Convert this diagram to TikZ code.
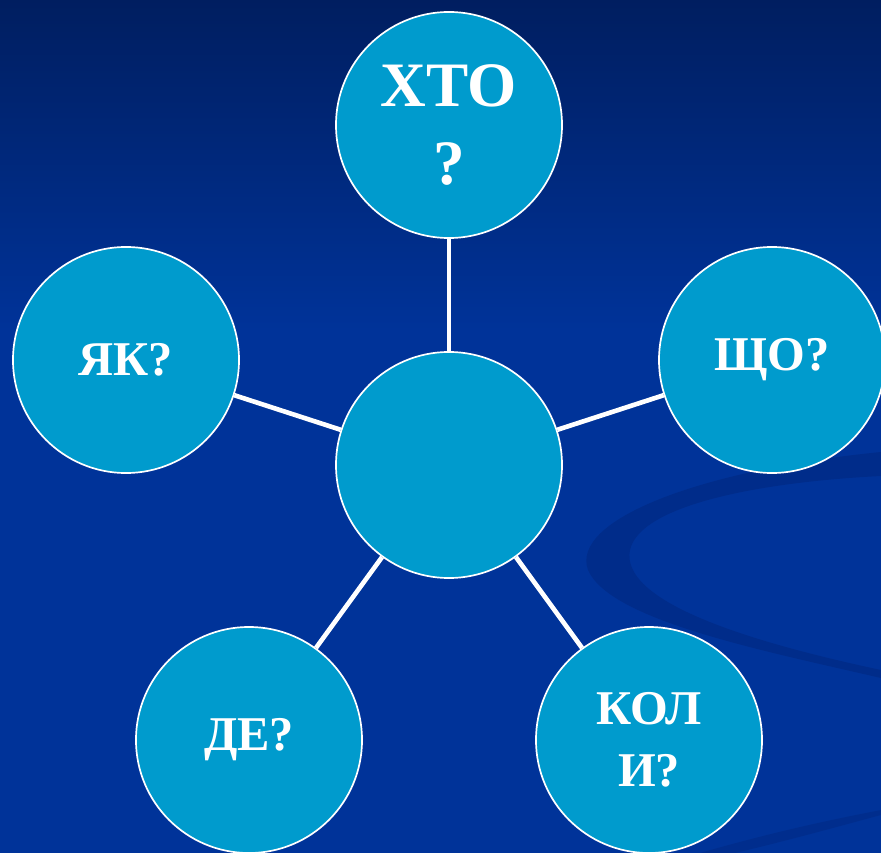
\documentclass[tikz,border=0pt]{standalone}
\usepackage{fontspec}
\setmainfont{Liberation Serif}
\usetikzlibrary{positioning}

\definecolor{navytop}{RGB}{0,30,96}
\definecolor{navybot}{RGB}{0,51,153}
\definecolor{swoosh}{RGB}{0,36,120}
\definecolor{bubblefill}{RGB}{0,155,205}

\begin{document}
\begin{tikzpicture}[x=0.025cm, y=-0.025cm,
    bubble/.style={circle, draw=white, line width=1.2pt, fill=bubblefill,
        minimum size=5.65cm, inner sep=0pt, text=white, align=center,
        font=\fontsize{34.5}{44}\selectfont\bfseries},
    bigtext/.style={font=\fontsize{45}{56}\selectfont\bfseries},
    spoke/.style={draw=white, line width=3.3pt},
]
\useasboundingbox (0,0) rectangle (881,853);
\clip (0,0) rectangle (881,853);

% background
\shade[top color=navytop, bottom color=navybot] (0,0) rectangle (881,330);
\fill[navybot] (0,329) rectangle (881,853);
\fill[swoosh, opacity=0.45] (881,452) .. controls (700,470) and (570,520) .. (588,570)
    .. controls (610,620) and (760,650) .. (881,678)
    -- (881,670) .. controls (740,640) and (620,600) .. (630,550)
    .. controls (640,505) and (760,482) .. (881,476) -- cycle;
\fill[swoosh, opacity=0.35] (700,853) .. controls (780,830) and (840,818) .. (881,810)
    -- (881,815) .. controls (840,826) and (790,840) .. (735,853) -- cycle;

% hub and questions
\node[bubble] (hub) at (449,465) {};
\node[bubble, bigtext] (who) at (449,125) {ХТО\\?};
\node[bubble] (what) at (772,360) {ЩО?};
\node[bubble] (how) at (126,360) {ЯК?};
\node[bubble] (where) at (249,740) {ДЕ?};
\node[bubble] (when) at (649,740) {КОЛ\\И?};

\draw[spoke] (hub) -- (who);
\draw[spoke] (hub) -- (what);
\draw[spoke] (hub) -- (how);
\draw[spoke] (hub) -- (where);
\draw[spoke] (hub) -- (when);
\end{tikzpicture}
\end{document}
